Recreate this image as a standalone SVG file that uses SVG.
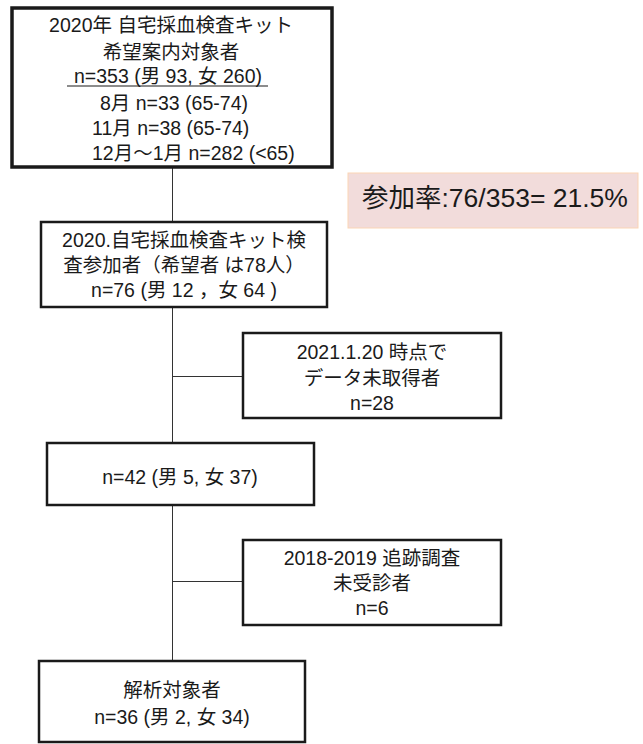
<svg xmlns="http://www.w3.org/2000/svg" width="643" height="744" viewBox="0 0 643 744">
<style>
.box{fill:#fff;stroke:#1a1a1a;stroke-width:3}
.t{font-family:"Liberation Sans","Noto Sans CJK JP",sans-serif;font-size:19.5px;fill:#1a1a1a}
.c{text-anchor:middle}
.ln{stroke:#333;stroke-width:1;fill:none}
</style>
<rect width="643" height="744" fill="#fff"/>
<g id="connectors">
<line class="ln" x1="172.5" y1="168" x2="172.5" y2="661"/>
<line class="ln" x1="172.5" y1="376.5" x2="243" y2="376.5"/>
<line class="ln" x1="172.5" y1="581.5" x2="243" y2="581.5"/>
</g>
<g id="n1">
<rect class="box" x="12" y="8" width="320" height="159" style="stroke-width:3.5"/>
<text class="t c" x="171" y="32">2020年 自宅採血検査キット</text>
<text class="t c" x="171" y="59">希望案内対象者</text>
<text class="t c" x="168" y="83">n=353 (男 93, 女 260)</text>
<line x1="67" y1="86" x2="268" y2="86" stroke="#1a1a1a" stroke-width="1.2"/>
<text class="t" x="100" y="110">8月 n=33 (65-74)</text>
<text class="t" x="92" y="135">11月 n=38 (65-74)</text>
<text class="t" x="92" y="160">12月～1月 n=282 (&lt;65)</text>
</g>
<g id="rate">
<rect x="348" y="173" width="290" height="55" fill="#f2dcdb" stroke="#fbd5b5" stroke-width="1"/>
<text class="t" x="362" y="207" style="font-size:26.5px">参加率:76/353= 21.5%</text>
</g>
<g id="n2">
<rect class="box" x="41" y="222" width="286" height="85" style="stroke-width:2.5"/>
<text class="t c" x="184" y="247">2020.自宅採血検査キット検</text>
<text class="t c" x="184" y="272">査参加者（希望者 は78人）</text>
<text class="t c" x="184" y="297">n=76 (男 12 ，女 64 )</text>
</g>
<g id="n3">
<rect class="box" x="243" y="333" width="258" height="85" style="stroke-width:2.5"/>
<text class="t c" x="372" y="359">2021.1.20 時点で</text>
<text class="t c" x="372" y="385">データ未取得者</text>
<text class="t c" x="372" y="410">n=28</text>
</g>
<g id="n4">
<rect class="box" x="47" y="443" width="267" height="62" style="stroke-width:2.5"/>
<text class="t c" x="180" y="484">n=42 (男 5, 女 37)</text>
</g>
<g id="n5">
<rect class="box" x="243" y="540" width="258" height="85" style="stroke-width:2.5"/>
<text class="t c" x="372" y="565">2018-2019 追跡調査</text>
<text class="t c" x="372" y="590">未受診者</text>
<text class="t c" x="372" y="615">n=6</text>
</g>
<g id="n6">
<rect class="box" x="39" y="661" width="266" height="81" style="stroke-width:2.5"/>
<text class="t c" x="172" y="697">解析対象者</text>
<text class="t c" x="172" y="724">n=36 (男 2, 女 34)</text>
</g>
</svg>
